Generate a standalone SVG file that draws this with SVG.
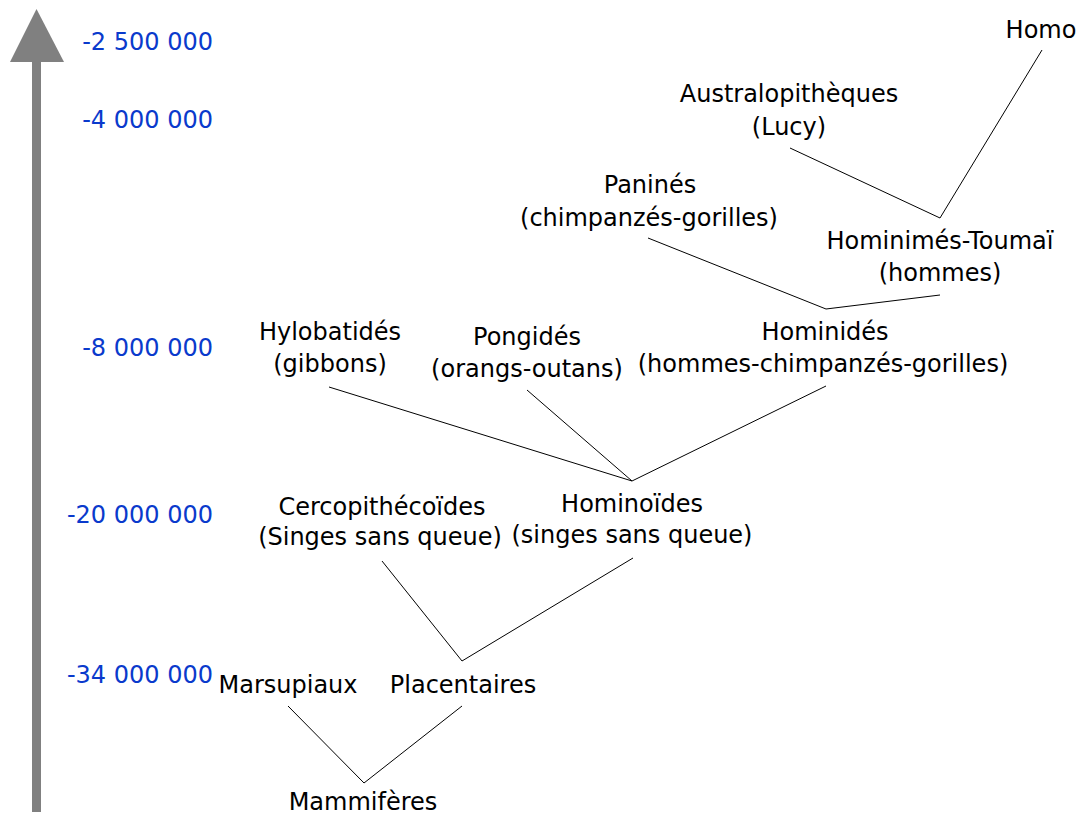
<svg xmlns="http://www.w3.org/2000/svg" width="1079" height="816" viewBox="0 0 1079 816">
<style>
text{font-family:"DejaVu Sans",Verdana,sans-serif;font-size:24px}
.n{fill:#000;text-anchor:middle}
.t{fill:#0a3acc;text-anchor:end}
.c line,.c polyline{stroke:#000;stroke-width:1;fill:none}
</style>
<rect width="1079" height="816" fill="#fff"/>
<g id="axis">
<rect x="32" y="60" width="9" height="752" fill="#808080"/>
<polygon points="36.5,9 10,62 64,62" fill="#808080"/>
</g>
<g id="timescale">
<text class="t" x="213" y="50">-2 500 000</text>
<text class="t" x="213" y="128">-4 000 000</text>
<text class="t" x="213" y="356">-8 000 000</text>
<text class="t" x="213" y="523">-20 000 000</text>
<text class="t" x="213" y="683">-34 000 000</text>
</g>
<g class="c" id="connectors">
<polyline points="790,148 940,218 1042,50"/>
<polyline points="648,238 826,309 940,295"/>
<polyline points="329,387 632,481 826,386"/>
<line x1="527" y1="390" x2="632" y2="481"/>
<polyline points="382,561 462,661 633,558"/>
<polyline points="288,706 364,783 462,706"/>
</g>
<g id="homo"><text class="n" x="1041" y="38">Homo</text></g>
<g id="australopitheques"><text class="n" x="789" y="102">Australopithèques</text><text class="n" x="789" y="135">(Lucy)</text></g>
<g id="hominimes"><text class="n" x="940" y="249">Hominimés-Toumaï</text><text class="n" x="940" y="281">(hommes)</text></g>
<g id="panines"><text class="n" x="650" y="193">Paninés</text><text class="n" x="649" y="226">(chimpanzés-gorilles)</text></g>
<g id="hominides"><text class="n" x="825" y="340">Hominidés</text><text class="n" x="823" y="372">(hommes-chimpanzés-gorilles)</text></g>
<g id="hylobatides"><text class="n" x="330" y="340">Hylobatidés</text><text class="n" x="330" y="372">(gibbons)</text></g>
<g id="pongides"><text class="n" x="527" y="345">Pongidés</text><text class="n" x="527" y="377">(orangs-outans)</text></g>
<g id="cercopithecoides"><text class="n" x="382" y="515">Cercopithécoïdes</text><text class="n" x="380" y="545">(Singes sans queue)</text></g>
<g id="hominoides"><text class="n" x="632" y="512">Hominoïdes</text><text class="n" x="632" y="543">(singes sans queue)</text></g>
<g id="marsupiaux"><text class="n" x="288" y="693">Marsupiaux</text></g>
<g id="placentaires"><text class="n" x="463" y="693">Placentaires</text></g>
<g id="mammiferes"><text class="n" x="363" y="810">Mammifères</text></g>
</svg>
